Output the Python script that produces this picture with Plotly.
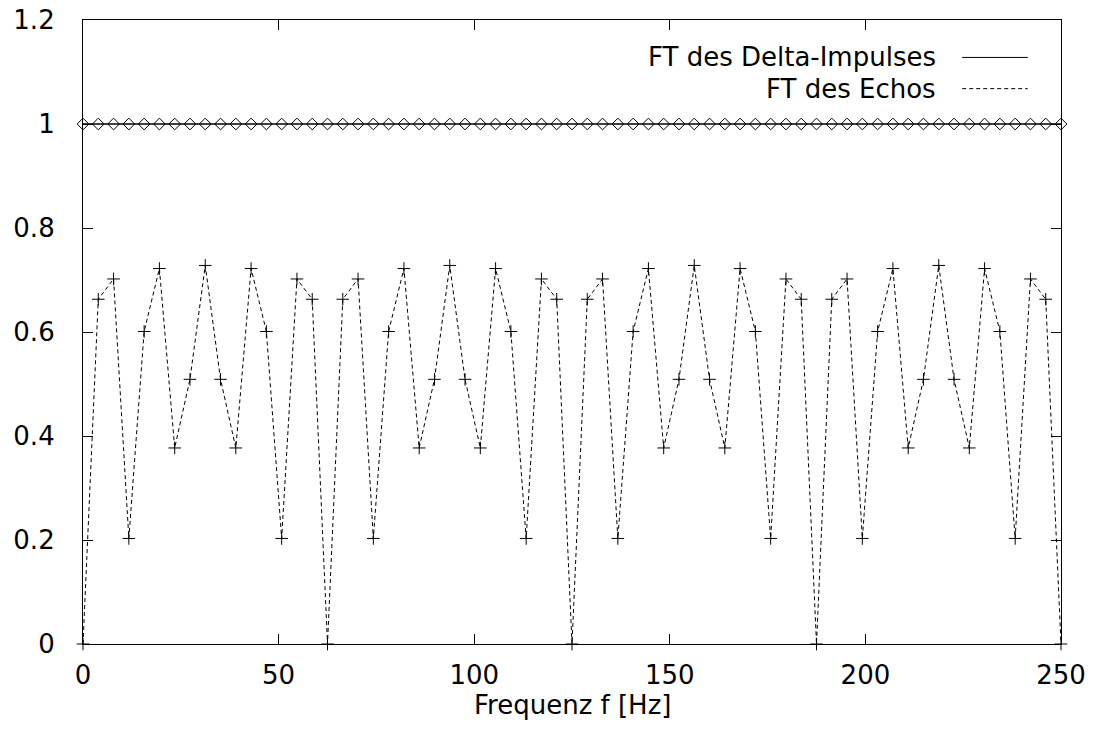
import plotly.graph_objects as go

# Frequency grid [Hz]
freq = [0, 3.90625, 7.8125, 11.71875, 15.625, 19.53125, 23.4375, 27.34375, 31.25,
        35.15625, 39.0625, 42.96875, 46.875, 50.78125, 54.6875, 58.59375, 62.5,
        66.40625, 70.3125, 74.21875, 78.125, 82.03125, 85.9375, 89.84375, 93.75,
        97.65625, 101.5625, 105.46875, 109.375, 113.28125, 117.1875, 121.09375, 125,
        128.90625, 132.8125, 136.71875, 140.625, 144.53125, 148.4375, 152.34375, 156.25,
        160.15625, 164.0625, 167.96875, 171.875, 175.78125, 179.6875, 183.59375, 187.5,
        191.40625, 195.3125, 199.21875, 203.125, 207.03125, 210.9375, 214.84375, 218.75,
        222.65625, 226.5625, 230.46875, 234.375, 238.28125, 242.1875, 246.09375, 250]

delta_ft = [1.0] * 65

echo_ft = [0.0, 0.663, 0.702, 0.203, 0.601, 0.722, 0.377, 0.509, 0.728, 0.509, 0.377, 0.722, 0.601, 0.203, 0.702, 0.663,
           0.0, 0.663, 0.702, 0.203, 0.601, 0.722, 0.377, 0.509, 0.728, 0.509, 0.377, 0.722, 0.601, 0.203, 0.702, 0.663,
           0.0, 0.663, 0.702, 0.203, 0.601, 0.722, 0.377, 0.509, 0.728, 0.509, 0.377, 0.722, 0.601, 0.203, 0.702, 0.663,
           0.0, 0.663, 0.702, 0.203, 0.601, 0.722, 0.377, 0.509, 0.728, 0.509, 0.377, 0.722, 0.601, 0.203, 0.702, 0.663,
           0.0]

series_names = ["FT des Delta-Impulses", "FT des Echos"]
x_ticks = [0, 50, 100, 150, 200, 250]
y_ticks = [0, 0.2, 0.4, 0.6, 0.8, 1.0, 1.2]
y_tick_text = ["0", "0.2", "0.4", "0.6", "0.8", "1", "1.2"]
x_title = "Frequenz f [Hz]"

FONT = "DejaVu Sans"
FS = 26

fig = go.Figure()
fig.add_trace(go.Scatter(
    x=freq, y=echo_ft, mode="lines+markers", name=series_names[1],
    line=dict(color="black", width=1, dash="4px,3px"),
    marker=dict(symbol="cross-thin", size=9, line=dict(color="black", width=1)),
    showlegend=False, cliponaxis=False,
))
fig.add_trace(go.Scatter(
    x=freq, y=delta_ft, mode="lines+markers", name=series_names[0],
    line=dict(color="black", width=1.3),
    marker=dict(symbol="diamond-open", size=9, color="black", line=dict(width=1)),
    showlegend=False, cliponaxis=False,
))

# gnuplot-style key: text right-aligned, line sample on the right
key_rows = [(0.940, "solid"), (0.890, "4px,3px")]
for name, (yy, dash) in zip(series_names, key_rows):
    fig.add_annotation(x=0.873, y=yy, xref="paper", yref="paper", text=name,
                       showarrow=False, xanchor="right", yanchor="middle",
                       borderpad=0,
                       font=dict(family=FONT, size=FS, color="black"))
    fig.add_shape(type="line", xref="paper", yref="paper", x0=0.899, x1=0.966,
                  y0=yy, y1=yy, line=dict(color="black", width=1, dash=dash))

# x-axis title placed like gnuplot's xlabel
fig.add_annotation(x=0.5, y=-0.098, xref="paper", yref="paper", text=x_title,
                   showarrow=False, xanchor="center", yanchor="middle", borderpad=0,
                   font=dict(family=FONT, size=FS, color="black"))

axis_common = dict(showgrid=False, zeroline=False, showline=True, linecolor="black",
                   linewidth=1.2, mirror="ticks", ticks="inside", ticklen=10,
                   tickcolor="black", tickwidth=1.2, automargin=False,
                   tickfont=dict(family=FONT, size=FS, color="black"))

fig.update_xaxes(range=[0, 250], tickvals=x_ticks, ticklabelstandoff=8, **axis_common)
fig.update_yaxes(range=[0, 1.2], tickvals=y_ticks, ticktext=y_tick_text,
                 ticklabelstandoff=22, **axis_common)

fig.update_layout(width=1104, height=729, plot_bgcolor="white", paper_bgcolor="white",
                  margin=dict(l=83, r=43, t=20, b=85, autoexpand=False),
                  font=dict(family=FONT, size=FS, color="black"))

fig.write_html("out.html", config={"displayModeBar": False},
               post_script="document.body.style.margin='0';document.body.style.overflow='hidden';")
